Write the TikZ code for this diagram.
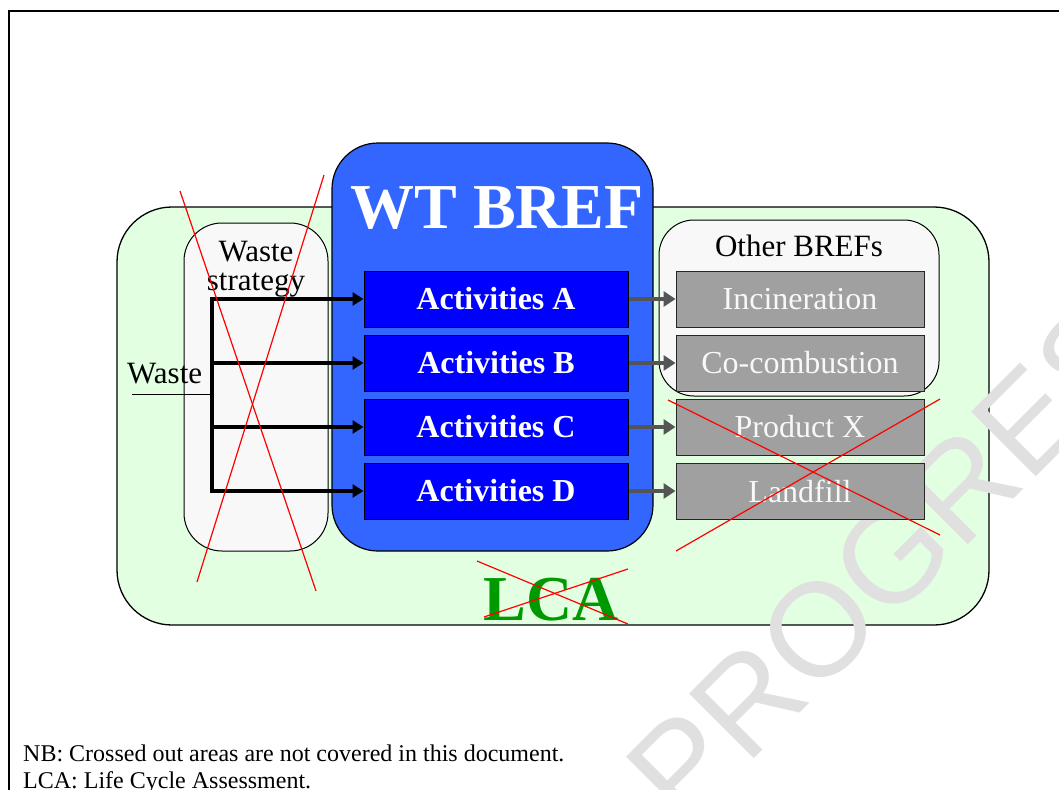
\documentclass[tikz,border=0pt]{standalone}
\usepackage{fontspec}
\setmainfont{Liberation Serif}
\newfontfamily\wmfont{Liberation Sans}
\usetikzlibrary{arrows.meta}
\definecolor{lcagreen}{HTML}{E2FFE2}
\definecolor{wtblue}{HTML}{3366FF}
\definecolor{actblue}{HTML}{0000FF}
\definecolor{procgray}{HTML}{A0A0A0}
\definecolor{panel}{HTML}{F8F8F8}
\definecolor{flowgray}{HTML}{555555}
\definecolor{lcatext}{HTML}{009900}
\definecolor{wmgray}{HTML}{E0E0E0}

\begin{document}
\begin{tikzpicture}[x=1pt,y=-1pt,
  lcabox/.style={draw=black, line width=1.3pt, fill=lcagreen, rounded corners=55pt, inner sep=0pt},
  panelbox/.style={draw=black, line width=1pt, fill=panel, rounded corners=38pt, inner sep=0pt},
  wtbox/.style={draw=black, line width=1.2pt, fill=wtblue, rounded corners=46pt, inner sep=0pt},
  actbox/.style={draw=black, line width=1pt, fill=actblue, minimum width=264pt, minimum height=56pt,
    inner sep=0pt, text=white, font=\fontsize{32}{38}\selectfont\bfseries},
  procbox/.style={draw=black!85, line width=1pt, fill=procgray, minimum width=248pt, minimum height=56pt,
    inner sep=0pt, text=panel, font=\fontsize{32}{38}\selectfont},
  lbl/.style={inner sep=0pt, text=black, font=\fontsize{31}{29}\selectfont},
  wttitle/.style={inner sep=0pt, text=white, font=\fontsize{64}{70}\selectfont\bfseries},
  lcatitle/.style={inner sep=0pt, text=lcatext, font=\fontsize{64}{70}\selectfont\bfseries},
  note/.style={inner sep=0pt, text=black, font=\fontsize{24}{28}\selectfont},
  wm/.style={inner sep=0pt, rotate=45, text=wmgray, font=\wmfont\fontsize{133}{133}\selectfont},
  busline/.style={line width=4pt, black},
  busarrow/.style={busline, -{Triangle[length=11pt,width=13pt]}},
  flowarrow/.style={line width=4pt, flowgray, -{Triangle[length=12pt,width=15pt]}},
  crossline/.style={red, line width=1.2pt}]

\useasboundingbox (0,0) rectangle (1059,789);
\clip (0,0) rectangle (1059,789);
\fill[white] (0,0) rectangle (1059,789);

% page frame
\draw[line width=2pt] (9,800) |- (1070,11);

% life cycle assessment area
\node[lcabox, minimum width=872pt, minimum height=418pt] (lca) at (553,416) {};

% draft watermark
\node[wm, anchor=base east] (wmark) at (1217,296) {IN PROGRESS};

% waste strategy panel
\node[panelbox, minimum width=144pt, minimum height=328pt] (strat) at (256,387) {};
\node[lbl, anchor=base, align=center] (stratlbl) at (256,290) {Waste\\strategy};

% WT BREF block
\node[wtbox, minimum width=321pt, minimum height=408pt] (wt) at (492.5,347) {};
\node[wttitle, anchor=base] (wtlbl) at (497,228) {WT BREF};

% other BREFs panel
\node[panelbox, rounded corners=35pt, minimum width=280pt, minimum height=176pt] (other) at (799,308) {};
\node[lbl, anchor=base] (otherlbl) at (799,256) {Other BREFs};

% activities
\node[actbox] (actA) at (496,299) {Activities A};
\node[actbox] (actB) at (496,363) {Activities B};
\node[actbox] (actC) at (496,427) {Activities C};
\node[actbox] (actD) at (496,491) {Activities D};

% downstream processes
\node[procbox] (inc) at (800,299) {Incineration};
\node[procbox] (cocomb) at (800,363) {Co-combustion};
\node[procbox] (prodx) at (800,427) {Product X};
\node[procbox] (landfill) at (800,491) {Landfill};

% outputs of the activities
\draw[flowarrow] (actA.east) -- (inc.west);
\draw[flowarrow] (actB.east) -- (cocomb.west);
\draw[flowarrow] (actC.east) -- (prodx.west);
\draw[flowarrow] (actD.east) -- (landfill.west);

% incoming waste and distribution bus
\coordinate (busx) at (212,0);
\node[lbl, anchor=base west] (wastelbl) at (127,383) {Waste};
\coordinate (wastein) at (132,394);
\draw[line width=1pt] (wastein) -- (wastein -| busx);
\draw[busarrow] (actD.west -| busx) -- (actA.west -| busx) -- (actA.west);
\draw[busarrow] (actA.west -| busx) -- (actD.west -| busx) -- (actD.west);
\draw[busarrow] (actB.west -| busx) -- (actB.west);
\draw[busarrow] (actC.west -| busx) -- (actC.west);

% LCA label
\node[lcatitle, anchor=base] (lcalbl) at (551,620) {LCA};

% crossed-out areas
\draw[crossline] (180,191) -- (316,591);
\draw[crossline] (324,175) -- (197,582);
\draw[crossline] (668,400) -- (940,535);
\draw[crossline] (940,399) -- (676,551);
\draw[crossline] (477,561) -- (628,624);
\draw[crossline] (628,569) -- (484,617);

% notes
\node[note, anchor=base west] (nbnote) at (23,761) {NB: Crossed out areas are not covered in this document.};
\node[note, anchor=base west] (lcanote) at (23,788) {LCA: Life Cycle Assessment.};
\end{tikzpicture}
\end{document}
